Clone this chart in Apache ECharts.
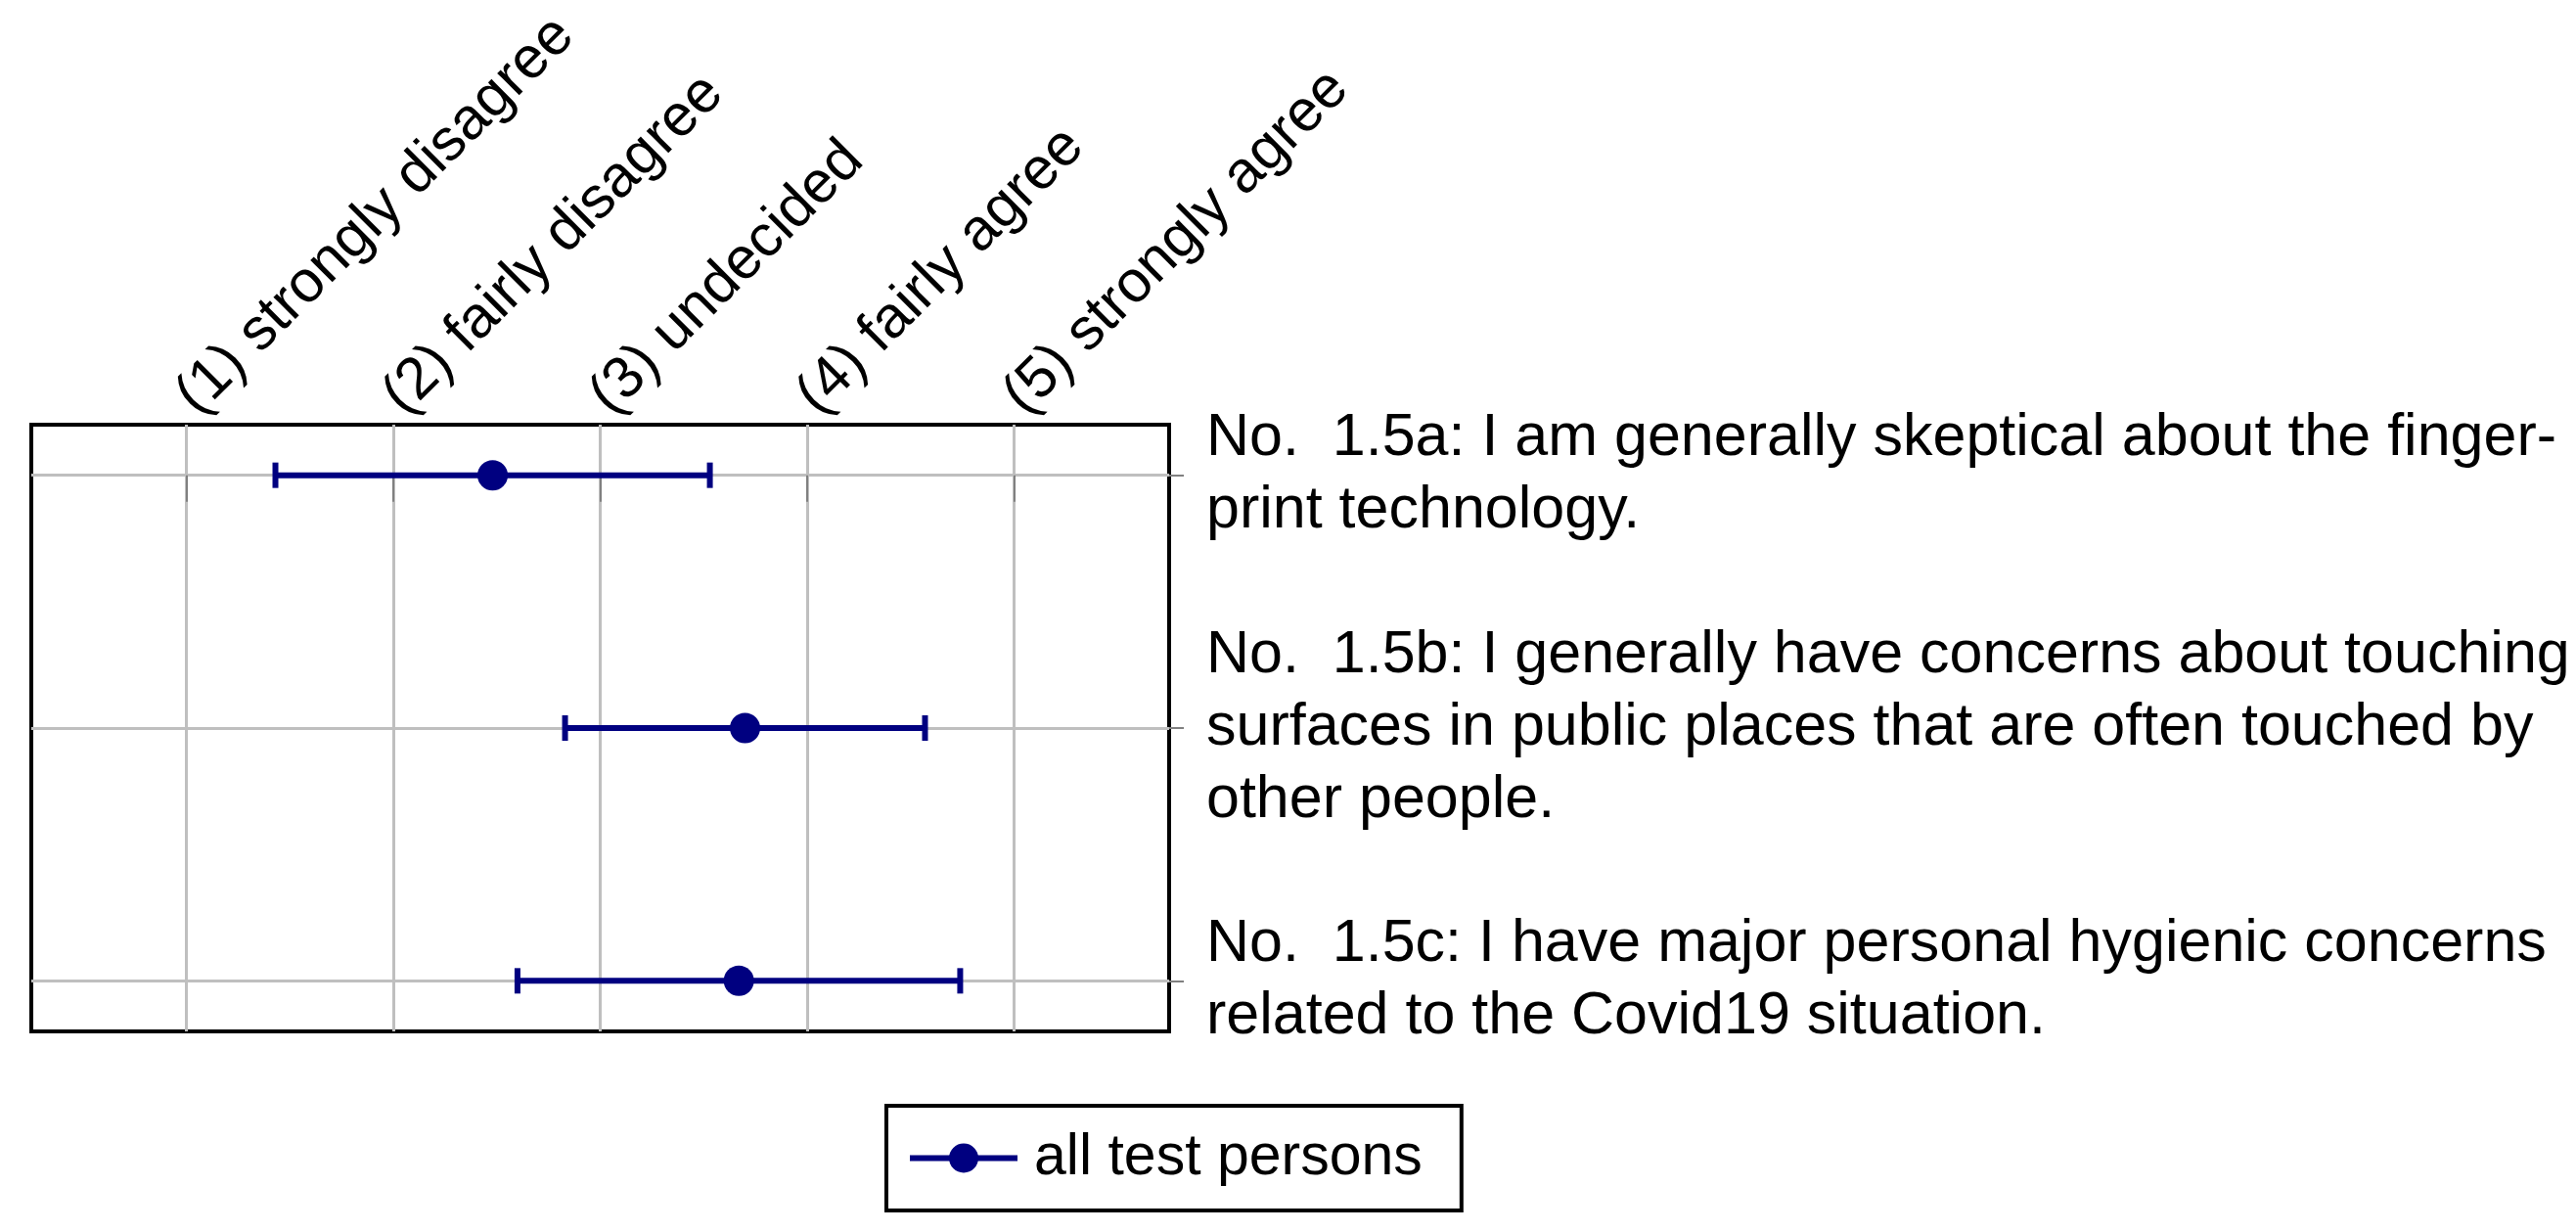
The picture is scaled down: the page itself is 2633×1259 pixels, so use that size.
<!DOCTYPE html>
<html>
<head>
<meta charset="utf-8">
<script src="https://cdn.jsdelivr.net/npm/echarts@6/dist/echarts.min.js"></script>
<style>
html, body { margin: 0; padding: 0; background: #fff; }
#main { width: 2633px; height: 1259px; }
</style>
</head>
<body>
<div id="main"></div>
<script>
// answer scale (top axis)
var scaleTicks = [1, 2, 3, 4, 5];
var scaleLabels = ['(1) strongly disagree', '(2) fairly disagree', '(3) undecided', '(4) fairly agree', '(5) strongly agree'];

// questionnaire items (right axis), one row each
var rows = [0, 1, 2];
var statements = [
    'No.  1.5a: I am generally skeptical about the finger-\nprint technology.',
    'No.  1.5b: I generally have concerns about touching\nsurfaces in public places that are often touched by\nother people.',
    'No.  1.5c: I have major personal hygienic concerns\nrelated to the Covid19 situation.'
];

// mean and standard deviation per item
var means = [2.48, 3.70, 3.67];
var errors = [1.05, 0.87, 1.07];

var seriesName = 'all test persons';
var navy = '#000080';
var font = 'Liberation Sans';

var pointData = rows.map(function (r, i) { return [means[i], r]; });
var errData = rows.map(function (r, i) { return [means[i], r, errors[i]]; });

var myChart = echarts.init(document.getElementById('main'));

myChart.setOption({
    animation: false,
    backgroundColor: '#fff',
    grid: {
        left: 32,
        right: 1438,
        top: 434,
        bottom: 205,
        show: true,
        borderColor: '#000',
        borderWidth: 4
    },
    legend: {
        data: [seriesName],
        left: 906,
        top: 1130,
        padding: [24, 40, 24, 21],
        borderColor: '#000',
        borderWidth: 4,
        itemWidth: 110,
        itemHeight: 37.5,
        lineStyle: { color: navy, width: 6, opacity: 1 },
        itemStyle: { color: navy, opacity: 1 },
        textStyle: { fontFamily: font, fontSize: 59, color: '#000', padding: [0, 0, 0, 12] }
    },
    xAxis: {
        type: 'value',
        position: 'top',
        min: 0.25,
        max: 5.75,
        axisLine: { show: false },
        axisTick: {
            show: true,
            inside: true,
            length: 27,
            customValues: scaleTicks,
            lineStyle: { color: '#808080', width: 2 }
        },
        splitLine: { show: true, lineStyle: { color: '#bfbfbf', width: 3 } },
        axisLabel: {
            customValues: scaleTicks,
            rotate: 45,
            margin: 20,
            align: 'left',
            verticalAlign: 'middle',
            fontFamily: font,
            fontSize: 60,
            color: '#000',
            formatter: function (v) { return scaleLabels[scaleTicks.indexOf(v)]; }
        }
    },
    yAxis: {
        type: 'value',
        position: 'right',
        inverse: true,
        min: -0.2,
        max: 2.2,
        axisLine: { show: false },
        axisTick: {
            show: true,
            length: 15,
            customValues: rows,
            lineStyle: { color: '#808080', width: 2 }
        },
        splitLine: { show: true, lineStyle: { color: '#bfbfbf', width: 3 } },
        axisLabel: {
            customValues: rows,
            margin: 38,
            align: 'left',
            fontFamily: font,
            fontSize: 61,
            lineHeight: 74,
            color: '#000',
            formatter: function (v) { return statements[rows.indexOf(v)]; }
        }
    },
    series: [{
        name: 'err',
        type: 'custom',
        data: errData,
        encode: { x: 0, y: 1 },
        renderItem: function (params, api) {
            var y = api.value(1);
            var lo = api.coord([api.value(0) - api.value(2), y]);
            var hi = api.coord([api.value(0) + api.value(2), y]);
            var cap = 13;
            var style = { stroke: navy, lineWidth: 6 };
            return {
                type: 'group',
                children: [
                    { type: 'line', shape: { x1: lo[0], y1: lo[1], x2: hi[0], y2: hi[1] }, style: style },
                    { type: 'line', shape: { x1: lo[0], y1: lo[1] - cap, x2: lo[0], y2: lo[1] + cap }, style: style },
                    { type: 'line', shape: { x1: hi[0], y1: hi[1] - cap, x2: hi[0], y2: hi[1] + cap }, style: style }
                ]
            };
        }
    }, {
        name: seriesName,
        type: 'line',
        data: pointData,
        symbol: 'circle',
        symbolSize: 31,
        itemStyle: { color: navy },
        lineStyle: { color: navy, width: 6, opacity: 0 },
        z: 3
    }]
});
</script>
</body>
</html>
